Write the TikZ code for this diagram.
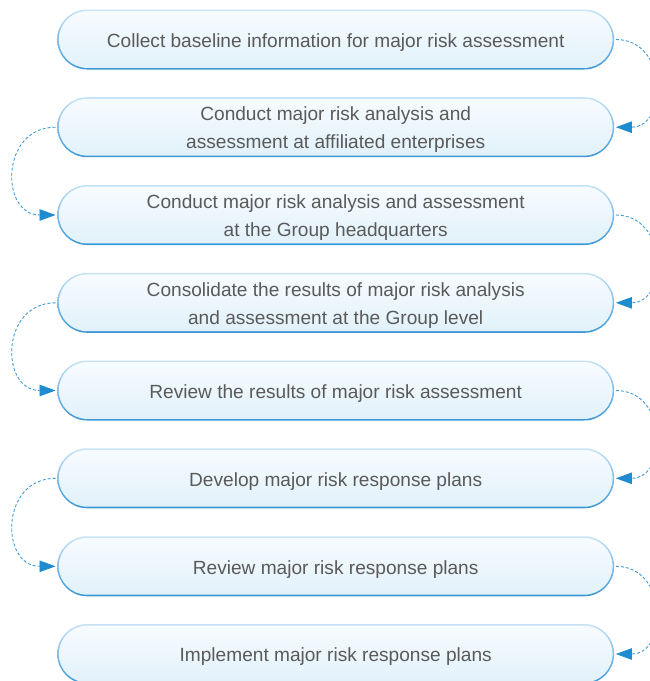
\documentclass[tikz,border=0pt]{standalone}
\usepackage{fontspec}
\setmainfont{Liberation Sans}
\usetikzlibrary{arrows.meta}

\definecolor{rimtop}{HTML}{C6E3F6}
\definecolor{rimbot}{HTML}{3A96D4}
\definecolor{filltop}{HTML}{F7FCFF}
\definecolor{fillbot}{HTML}{E1F1FA}
\definecolor{linkblue}{HTML}{3F9CD9}
\definecolor{tipblue}{HTML}{1E8CCF}
\definecolor{labelgray}{HTML}{5A5A5A}

\tikzset{
  stagebox/.style={
    rectangle, rounded corners=30pt,
    minimum width=557pt, minimum height=60pt, inner sep=0pt,
    top color=rimtop, bottom color=rimbot,
    path picture={
      \shade[top color=filltop, bottom color=fillbot, rounded corners=28.4pt]
        ([shift={(1.6pt,-1.6pt)}]path picture bounding box.north west)
        rectangle
        ([shift={(-1.6pt,1.6pt)}]path picture bounding box.south east);
    }
  },
  stagetext/.style={
    align=center, text=labelgray, inner sep=0pt,
    font=\fontsize{19.1pt}{28pt}\selectfont
  },
  link/.style={
    draw=linkblue, line width=0.9pt, dash pattern=on 3pt off 2pt,
    -{Triangle[length=16pt,width=11.5pt,color=tipblue]},
    shorten <=1.5pt, shorten >=1.5pt
  }
}

\begin{document}
\begin{tikzpicture}[x=1pt, y=-1pt]
  \useasboundingbox (0,0) rectangle (650,681);
  \clip (0,0) rectangle (650,681);

  % process stages, top to bottom
  \node[stagebox] (s1) at (335.7,39.5)  {};
  \node[stagebox] (s2) at (335.7,127.2) {};
  \node[stagebox] (s3) at (335.7,215)   {};
  \node[stagebox] (s4) at (335.7,302.8) {};
  \node[stagebox] (s5) at (335.7,390.5) {};
  \node[stagebox] (s6) at (335.7,478.3) {};
  \node[stagebox] (s7) at (335.7,566.3) {};
  \node[stagebox] (s8) at (335.7,654)   {};

  % stage labels, set a little below each box centre
  \node[stagetext] (t1) at ([yshift=-2.8pt]s1.center) {Collect baseline information for major risk assessment};
  \node[stagetext] (t2) at ([yshift=-2.8pt]s2.center) {Conduct major risk analysis and\\assessment at affiliated enterprises};
  \node[stagetext] (t3) at ([yshift=-2.8pt]s3.center) {Conduct major risk analysis and assessment\\at the Group headquarters};
  \node[stagetext] (t4) at ([yshift=-2.8pt]s4.center) {Consolidate the results of major risk analysis\\and assessment at the Group level};
  \node[stagetext] (t5) at ([yshift=-2.8pt]s5.center) {Review the results of major risk assessment};
  \node[stagetext] (t6) at ([yshift=-2.8pt]s6.center) {Develop major risk response plans};
  \node[stagetext] (t7) at ([yshift=-2.8pt]s7.center) {Review major risk response plans};
  \node[stagetext] (t8) at ([yshift=-2.8pt]s8.center) {Implement major risk response plans};

  % alternating dashed links on the right and left
  \draw[link] (s1.east) .. controls +(54,0) and +(54,0) .. (s2.east);
  \draw[link] (s2.west) .. controls +(-57,0) and +(-57,0) .. (s3.west);
  \draw[link] (s3.east) .. controls +(54,0) and +(54,0) .. (s4.east);
  \draw[link] (s4.west) .. controls +(-57,0) and +(-57,0) .. (s5.west);
  \draw[link] (s5.east) .. controls +(54,0) and +(54,0) .. (s6.east);
  \draw[link] (s6.west) .. controls +(-57,0) and +(-57,0) .. (s7.west);
  \draw[link] (s7.east) .. controls +(54,0) and +(54,0) .. (s8.east);
\end{tikzpicture}
\end{document}
